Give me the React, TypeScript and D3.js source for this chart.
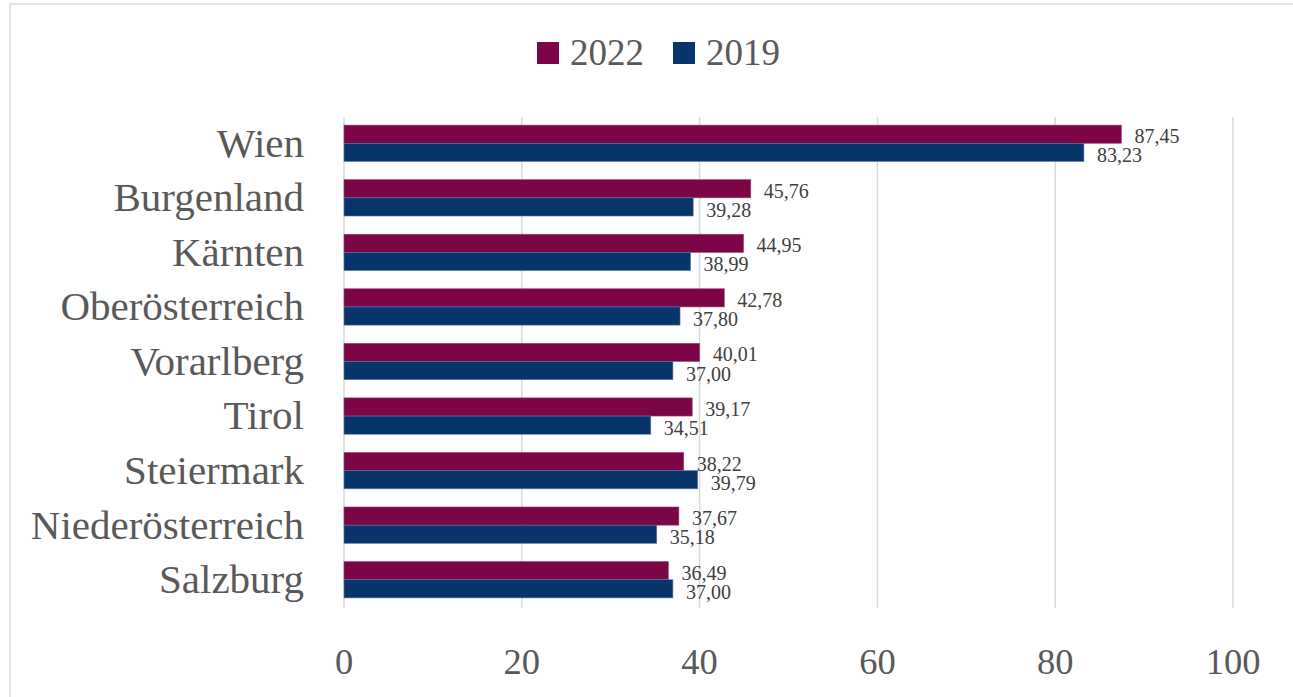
import React from "react";
import * as d3 from "d3";

const categories = ["Wien", "Burgenland", "Kärnten", "Oberösterreich", "Vorarlberg", "Tirol", "Steiermark", "Niederösterreich", "Salzburg"];
const values2022 = [87.45, 45.76, 44.95, 42.78, 40.01, 39.17, 38.22, 37.67, 36.49];
const values2019 = [83.23, 39.28, 38.99, 37.8, 37.0, 34.51, 39.79, 35.18, 37.0];
const seriesNames = ["2022", "2019"];
const xTicks = [0, 20, 40, 60, 80, 100];

const W = 1293;
const H = 697;
const COLORS = ["#7b0546", "#06346b"];
const STROKES = ["#a04a78", "#5a7fa8"];
const FONT = "'Liberation Serif', 'Times New Roman', serif";
const TEXT = "#595959";

export default function App() {
  const x = d3.scaleLinear().domain([0, 100]).range([344, 1233]);
  const y = d3.scaleBand<string>().domain(categories).range([116, 607]).paddingInner(1 / 3).paddingOuter(1 / 6);
  const sub = d3.scaleBand<string>().domain(seriesNames).range([0, y.bandwidth()]);
  const fmt = (v: number) => d3.format(".2f")(v).replace(".", ",");
  const series = [values2022, values2019];

  return (
    <svg width={W} height={H} style={{ position: "absolute", left: 0, top: 0, background: "#fff" }}>
      <rect x={10} y={4} width={W + 20} height={H + 20} fill="#fff" stroke="#d9d9d9" strokeWidth={1.5} />
      {/* legend */}
      {seriesNames.map((s, i) => (
        <g key={s} transform={`translate(${537 + i * 136},0)`}>
          <rect x={0} y={42} width={22} height={22} fill={COLORS[i]} />
          <text x={33} y={52} dy="0.35em" fontFamily={FONT} fontSize={37} fill={TEXT}>{s}</text>
        </g>
      ))}
      {/* gridlines */}
      {xTicks.map((t) => (
        <line key={t} x1={x(t)} x2={x(t)} y1={117} y2={608} stroke="#d9d9d9" strokeWidth={1.5} />
      ))}
      {/* x tick labels */}
      {xTicks.map((t) => (
        <text key={"t" + t} x={x(t)} y={661} dy="0.35em" textAnchor="middle" fontFamily={FONT} fontSize={36.5} fill={TEXT}>{t}</text>
      ))}
      {/* category labels */}
      {categories.map((c) => (
        <text key={c} x={304} y={(y(c) as number) + y.bandwidth() / 2 - 1} dy="0.35em" textAnchor="end" fontFamily={FONT} fontSize={41} fill={TEXT}>{c}</text>
      ))}
      {/* bars */}
      {categories.map((c, ci) => (
        <g key={"b" + c} transform={`translate(0,${y(c)})`}>
          {seriesNames.map((s, si) => {
            const v = series[si][ci];
            const by = sub(s) as number;
            return (
              <g key={s}>
                <rect x={x(0)} y={by} width={x(v) - x(0)} height={sub.bandwidth()} fill={COLORS[si]} stroke={STROKES[si]} strokeWidth={0.6} />
                <text x={x(v) + 13} y={by + sub.bandwidth() / 2 + (si === 0 ? 2 : 3)} dy="0.35em" fontFamily={FONT} fontSize={20} fill="#404040">{fmt(v)}</text>
              </g>
            );
          })}
        </g>
      ))}
    </svg>
  );
}
